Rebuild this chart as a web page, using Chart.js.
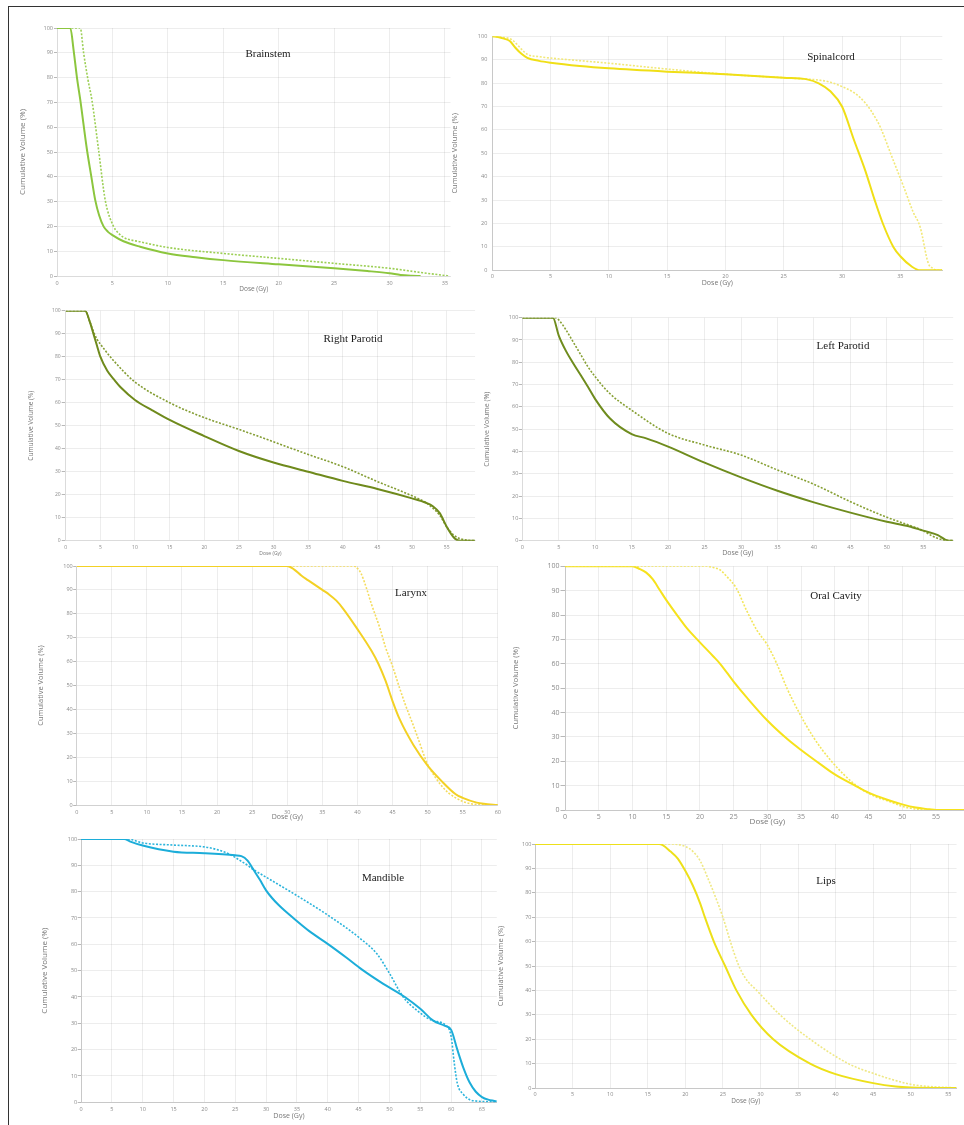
<!DOCTYPE html>
<html><head><meta charset="utf-8">
<script src="https://cdn.jsdelivr.net/npm/chart.js@4.4.1/dist/chart.umd.min.js"></script>
<style>
html,body{margin:0;padding:0;background:#fff;overflow:hidden;}
#page{position:relative;width:964px;height:1125px;overflow:hidden;background:#fff;}
#page canvas{position:absolute;}
.bl{position:absolute;background:#333;}
</style></head><body><div id="page">
<div class="bl" style="left:8px;top:6px;width:956px;height:1px"></div>
<div class="bl" style="left:8px;top:6px;width:1px;height:1119px"></div>
</div>
<script>
// ---------- DATA (dose in Gy, cumulative volume in %) ----------
// Brainstem
const brainstemDoseA = [0,1.2,1.5,1.8,2.1,2.7,3.1,3.45,3.8,4.2,4.6,5,6,7.5,10,12.5,15,20,25,28,30,31,32,32.8];
const brainstemVolA  = [100,100,91,80,71,51,40,30.6,24.5,20,17.8,16.5,14,11.8,9.1,7.6,6.4,4.7,3.1,2,1.1,0.4,0.1,0];
const brainstemDoseB = [0,2.1,2.4,2.8,3.15,3.75,4.35,5.1,5.5,6,7.5,10,15,20,25,30,33,35,35.3];
const brainstemVolB  = [100,100,90,79,70.9,50.9,30.6,20,17.5,15.6,13.8,11.5,9.1,7.1,5.1,3.1,1.3,0.2,0];
// Spinal cord
const spinalDoseA = [0,0.5,1,1.5,2,2.5,3,4,5,7.5,10,15,20,25,27,28,29,30,31,32,32.8,33.5,34.4,35,36,36.7,38.6];
const spinalVolA  = [100,99.7,99,98,95,92.5,90.8,89.5,88.7,87.3,86.3,84.9,83.8,82.3,81.6,79.9,76.5,70,56,42.5,30,20,10,6,1.5,0,0];
const spinalDoseB = [0,1,1.7,2.5,3,4,5,7.5,10,15,20,25,27,28,29,30,31,32,33,33.3,34.3,35.3,36.1,36.7,37.4,37.8,38.1,38.6];
const spinalVolB  = [100,99.5,98.5,94.5,92.3,91.3,90.7,89.6,88.5,86,83.8,82.3,81.7,81.3,80.4,78.5,76,71.5,64,61,48.2,35.5,24.9,18.5,3,0.8,0,0];
// Right parotid
const rParDoseA = [0,2.8,3.5,4,4.5,5,6,7,8,10,12.5,15,20,25,30,35,40,45,50,52,53,54,55,56,56.5,57,59.1];
const rParVolA  = [100,100,95,90,85,80,73.9,70,66.5,61.2,56.7,52.5,45.5,39,34,30,26,22.5,18.4,16.5,15,12,6.1,1.5,0.3,0,0];
const rParDoseB = [0,2.8,3.5,4,4.5,5,7,10,15,20,25,30,35,40,45,50,52,54,55,56,57,58,59.1];
const rParVolB  = [100,100,95,91,87.7,85.5,78,69,60,53.5,48.4,43,37.5,32.2,25.7,19.5,16.5,11,6,2.5,0.8,0.2,0];
// Left parotid
const lParDoseA = [0,4.2,5,6,7,8,9,10,12,15,17,20,25,30,35,40,45,50,53,55,57,58,58.5,59.1];
const lParVolA  = [100,100,92,85,79.5,74.3,69,63.5,54.9,47.8,45.9,42.2,35,28.4,22.4,17.2,12.6,8.5,6.5,4.5,2.5,0.5,0,0];
const lParDoseB = [0,4.5,5,6,7,8,9,10,12,15,20,25,30,35,40,45,50,53,55,56,57,58,59.1];
const lParVolB  = [100,100,99,94.5,89,83.5,78,73.5,66,58.5,48.1,42.9,38.4,31.7,25.3,17.5,10.5,7,4.5,2.5,1,0.2,0];
// Larynx
const larynxDoseA = [0,30,31,32,33,35,36,37,38,40,42,43,44,45,46,48,50,52,54,55,57,58,60];
const larynxVolA  = [100,100,98.5,96,94,90,88,85.5,82,73.6,64.5,59,52,43.5,36,25,16.5,10,4.5,3,1,0.5,0];
const larynxDoseB = [0,39.5,40,40.5,41.3,42,43.2,44,44.9,46,46.8,48,48.5,50,51,52,53,54,55,56,57,60];
const larynxVolB  = [100,100,99,97,90.6,84,74,66,58.9,49,42.2,33,29,17,12,8,5,3,1.5,0.6,0.2,0];
// Oral cavity
const oralDoseA = [0,10,11,12,13,14,15,17,18,20,22,23,25,27,30,33,35,38,40,43,45,48,50,52,54,55,60];
const oralVolA  = [100,100,99,97.5,94.7,90.5,86.2,78.5,74.8,68.8,63,60,52.7,46,36.7,29,24.6,18.5,14.6,10,7.1,4,2.3,1,0.3,0,0];
const oralDoseB = [0,21,22,23,24,25.4,26.9,28.4,30,31.4,32.9,34.7,36.8,39.5,43.2,46,48.2,50.1,51.5,53,60];
const oralVolB  = [100,100,99.5,98.5,95.8,91,82,74,67.7,60,50,40,30,20,10,5.5,3.4,1.4,0.6,0,0];
// Mandible
const mandDoseA = [0,7,8,10,15,20,25,26,27,28,29,30,31,32,33,34.4,37,40.1,43,45.5,49,52.5,55,57.1,59,60,61,62,63,64,65,66,67,67.4];
const mandVolA  = [100,100,99,97.5,95.2,94.6,93.8,93.5,91.8,88.2,84.5,80.5,77.5,75,72.8,70,65,60,55,50.5,45,40,35.5,31,29,27.5,20,13,7.5,4,2,1,0.5,0.3];
const mandDoseB = [0,7.5,10,15,20,22,24,25,26,27,28,30,35,40,45,48,50,52.2,54.4,57,59,60,60.5,61,62,63,64,66,67.4];
const mandVolB  = [100,100,98.5,97.7,97,96,94.3,93,91.5,90,88.3,85.5,78.5,71.1,62.7,56.3,49,40.1,35,31,29.5,25,15,7.2,3,1,0.5,0.2,0];
// Lips
const lipsDoseA = [0,16.5,17,18,19,20,21,22,22.6,23.8,25.3,26.8,28.8,31.7,36.6,40,45,48,50,55,56.1];
const lipsVolA  = [100,100,99.5,97,94,89,83,75.5,70,60,50,40,30,20,10,5.7,2,0.6,0.2,0,0];
const lipsDoseB = [0,17.5,18,20,21,22,23,24,25,26,27,28,29.5,32.6,36.6,41.7,45,50,53,55,56.1];
const lipsVolB  = [100,100,100,99,97,93,86,78.4,70,60,51,45,40,30,20,10,6,1.5,0.5,0.2,0];

const panelNames = ['Brainstem','Spinalcord','Right Parotid','Left Parotid','Larynx','Oral Cavity','Mandible','Lips'];
const xTitle = 'Dose (Gy)';
const yTitle = 'Cumulative Volume (%)';

// ---------- LAYOUT / STYLE ----------
const panels = [
 {name:panelNames[0], dA:brainstemDoseA, vA:brainstemVolA, dB:brainstemDoseB, vB:brainstemVolB, xmax:35.5,
  L:57, R:450.5, T:28, B:276, yTX:23, yTS:8, xTY:289, xTS:6.5, tickS:5.5, yTick:3, yPad:1, xPad:4,
  tX:268, tY:54, cA:'#8cc63e', cB:'#9ccf55', axis:'rgba(0,0,0,0.08)'},
 {name:panelNames[1], dA:spinalDoseA, vA:spinalVolA, dB:spinalDoseB, vB:spinalVolB, xmax:38.6,
  L:492.3, R:942.3, T:34.3, B:270.3, yTX:454, yTS:7.5, xTY:283, xTS:7, tickS:5.5, yTick:0, yPad:5, xPad:3,
  tX:831, tY:57, cA:'#f0df17', cB:'#f2e878', axis:'#c8c8c8'},
 {name:panelNames[2], dA:rParDoseA, vA:rParVolA, dB:rParDoseB, vB:rParVolB, xmax:59.1,
  L:65.7, R:475.1, T:310.7, B:540.7, yTX:30.7, yTS:6.5, xTY:553.3, xTS:5, tickS:5, yTick:4, yPad:1, xPad:4,
  tX:353, tY:339, cA:'#6f8a1c', cB:'#849d34', axis:'rgba(0,0,0,0.08)'},
 {name:panelNames[3], dA:lParDoseA, vA:lParVolA, dB:lParDoseB, vB:lParVolB, xmax:59.1,
  L:522.3, R:953.2, T:317.7, B:540.7, yTX:486.7, yTS:7, xTY:553.3, xTS:7, tickS:5.5, yTick:3.5, yPad:0.5, xPad:3,
  tX:843, tY:346, cA:'#6f8c1e', cB:'#87a034', axis:'rgba(0,0,0,0.08)'},
 {name:panelNames[4], dA:larynxDoseA, vA:larynxVolA, dB:larynxDoseB, vB:larynxVolB, xmax:60,
  L:76.7, R:497.8, T:566, B:805, yTX:40, yTS:7.5, xTY:817.3, xTS:7, tickS:5.5, yTick:3.5, yPad:0.5, xPad:4,
  tX:411, tY:593, cA:'#f3d125', cB:'#f4dc5e', axis:'rgba(0,0,0,0.12)'},
 {name:panelNames[5], dA:oralDoseA, vA:oralVolA, dB:oralDoseB, vB:oralVolB, xmax:60,
  L:565, R:969.7, T:566.3, B:810, yTX:516, yTS:7.7, xTY:821.7, xTS:8, tickS:7, yTick:4.5, yPad:1, xPad:3,
  tX:836, tY:596, cA:'#f6e21c', cB:'#f3e65c', axis:'#c8c8c8'},
 {name:panelNames[6], dA:mandDoseA, vA:mandVolA, dB:mandDoseB, vB:mandVolB, xmax:67.4,
  L:81, R:496.8, T:839, B:1102.3, yTX:45, yTS:8, xTY:1116, xTS:7, tickS:5.5, yTick:3.3, yPad:0.5, xPad:4,
  tX:383, tY:878, cA:'#1cadd9', cB:'#2cb4dc', axis:'#c8c8c8'},
 {name:panelNames[7], dA:lipsDoseA, vA:lipsVolA, dB:lipsDoseB, vB:lipsVolB, xmax:56.1,
  L:535, R:956.6, T:844, B:1088, yTX:500, yTS:7.5, xTY:1101, xTS:6.5, tickS:5.5, yTick:3, yPad:0.5, xPad:3,
  tX:826, tY:881, cA:'#ede01a', cB:'#efe884', axis:'#c8c8c8'}
];

const FONT = "'Open Sans', 'DejaVu Sans', sans-serif";
const GRID = 'rgba(0,0,0,0.07)';

const panelTitle = {
  id: 'panelTitle',
  afterDraw(chart, args, o) {
    const c = chart.ctx;
    c.save();
    c.font = o.font;
    c.fillStyle = o.color;
    c.textAlign = 'center';
    c.textBaseline = 'middle';
    c.fillText(o.text, o.x, o.y);
    c.restore();
  }
};

const page = document.getElementById('page');

panels.forEach(p => {
  const lhY = p.yTS * 1.2, lhX = p.xTS * 1.2;
  const cLeft = Math.round(p.yTX - lhY / 2);
  const yW = p.L - cLeft;
  const xH = p.xTY - p.B + lhX / 2;
  const padT = 6;
  const cTop = Math.round(p.T - padT);
  const topPad = p.T - cTop;
  const W = Math.ceil(yW + (p.R - p.L) + 8);
  const padR = W - yW - (p.R - p.L);
  const H = Math.ceil(topPad + (p.B - p.T) + xH + 1);
  const padB = H - topPad - (p.B - p.T) - xH;

  const cv = document.createElement('canvas');
  cv.width = W; cv.height = H;
  cv.style.left = cLeft + 'px'; cv.style.top = cTop + 'px';
  cv.style.width = W + 'px'; cv.style.height = H + 'px';
  page.appendChild(cv);

  new Chart(cv, {
    type: 'line',
    data: {
      datasets: [
        {data: p.dA.map((d, i) => ({x: d, y: p.vA[i]})), borderColor: p.cA, borderWidth: 2,
         pointRadius: 0, fill: false, cubicInterpolationMode: 'monotone'},
        {data: p.dB.map((d, i) => ({x: d, y: p.vB[i]})), borderColor: p.cB, borderWidth: 1.6,
         borderDash: [2, 1.6], pointRadius: 0, fill: false, cubicInterpolationMode: 'monotone'}
      ]
    },
    options: {
      responsive: false, animation: false, devicePixelRatio: 1,
      layout: {padding: {left: 0, top: topPad, right: padR, bottom: padB}},
      plugins: {
        legend: {display: false}, tooltip: {enabled: false},
        panelTitle: {text: p.name, x: p.tX - cLeft, y: p.tY - cTop,
                     font: "11px 'Liberation Serif', 'Times New Roman', serif", color: '#1a1a1a'}
      },
      scales: {
        x: {
          type: 'linear', min: 0, max: p.xmax,
          ticks: {stepSize: 5, includeBounds: false, autoSkip: false, maxRotation: 0,
                  font: {size: p.tickS, family: FONT}, color: '#8a8a8a', padding: p.xPad},
          grid: {color: GRID, drawTicks: false},
          border: {display: true, color: p.axis, width: 1},
          title: {display: true, text: xTitle, color: '#777', padding: 0,
                  font: {size: p.xTS, family: FONT}},
          afterFit: s => { s.height = xH; }
        },
        y: {
          min: 0, max: 100,
          ticks: {stepSize: 10, includeBounds: false, autoSkip: false,
                  font: {size: p.tickS, family: FONT}, color: '#8a8a8a', padding: p.yPad},
          grid: {color: GRID, drawTicks: p.yTick > 0, tickLength: p.yTick, tickColor: '#b8b8b8'},
          border: {display: true, color: p.axis, width: 1},
          title: {display: true, text: yTitle, color: '#777', padding: 0,
                  font: {size: p.yTS, family: FONT}},
          afterFit: s => { s.width = yW; }
        }
      }
    },
    plugins: [panelTitle]
  });
});
</script>
</body></html>
